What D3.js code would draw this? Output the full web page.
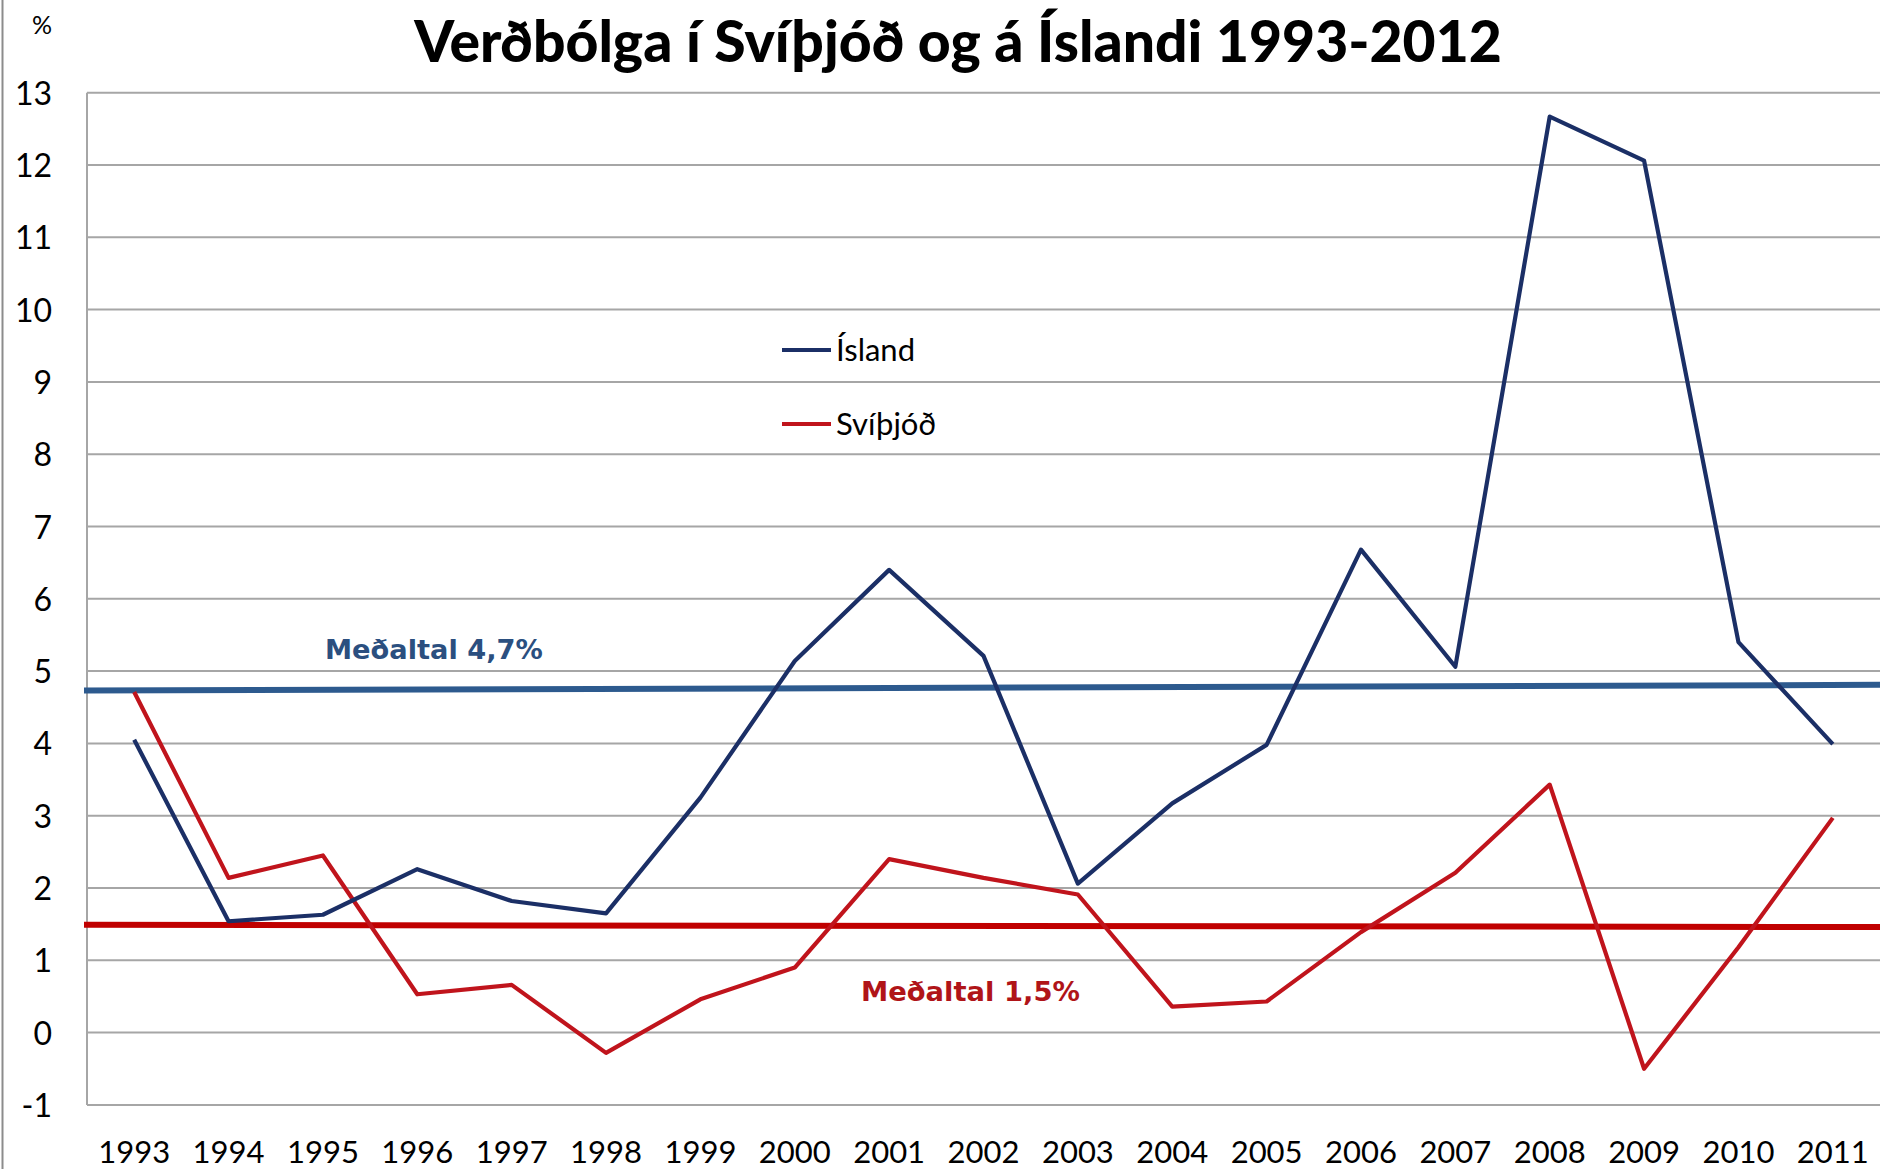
<!DOCTYPE html>
<html><head><meta charset="utf-8">
<script src="https://cdn.jsdelivr.net/npm/d3@7"></script>
<style>body{margin:0;background:#fff}svg{display:block}</style>
</head><body>
<svg id="c" width="1880" height="1169"></svg>
<script>
const years = [1993,1994,1995,1996,1997,1998,1999,2000,2001,2002,2003,2004,2005,2006,2007,2008,2009,2010,2011];
const island = [4.05,1.54,1.63,2.26,1.82,1.65,3.25,5.14,6.40,5.21,2.06,3.17,3.98,6.68,5.06,12.67,12.06,5.40,3.99];
const svithjod = [4.71,2.14,2.45,0.53,0.66,-0.28,0.46,0.90,2.40,2.14,1.91,0.36,0.43,1.39,2.21,3.43,-0.50,1.18,2.97];
const avgIsland = [4.73,4.81];
const avgSvithjod = [1.49,1.46];
const yTicks = [-1,0,1,2,3,4,5,6,7,8,9,10,11,12,13];
const seriesNames = ["Ísland","Svíþjóð"];
const avgLabels = ["Meðaltal 4,7%","Meðaltal 1,5%"];
const titleText = "Verðbólga í Svíþjóð og á Íslandi 1993-2012";

const svg = d3.select("#c");
const L = 87, R = 1880, T = 92.7, B = 1104.9;
const x = d3.scaleBand().domain(years).range([L, R]);
const y = d3.scaleLinear().domain([-1, 13]).range([B, T]);
const cx = d => x(d) + x.bandwidth()/2;

function fit(sel, w){ const n = sel.node(); const fs = parseFloat(sel.attr("font-size")); const cw = n.getComputedTextLength(); sel.attr("font-size", fs*w/cw); }

// left border
svg.append("line").attr("x1",2.5).attr("x2",2.5).attr("y1",0).attr("y2",1169).attr("stroke","#8c8c8c").attr("stroke-width",2);

// grid
const grid = svg.append("g");
grid.selectAll("line").data(yTicks).join("line")
  .attr("x1", L).attr("x2", R).attr("y1", d=>y(d)).attr("y2", d=>y(d))
  .attr("stroke","#a6a6a6").attr("stroke-width",2);
svg.append("line").attr("x1",L).attr("x2",L).attr("y1",T).attr("y2",B).attr("stroke","#a6a6a6").attr("stroke-width",2);

// y axis labels
const yAxis = d3.axisLeft(y).tickValues(yTicks).tickSize(0).tickPadding(0).tickFormat(d => String(d));
const ya = svg.append("g").attr("transform","translate(52,0)").call(yAxis);
ya.select(".domain").remove();
ya.selectAll("text").attr("font-family","Lato, sans-serif").attr("font-size",32).attr("fill","#000").attr("dy","0.36em");

// x axis labels
const xAxis = d3.axisBottom(x).tickSize(0).tickPadding(0).tickFormat(d => String(d));
const xa = svg.append("g").attr("transform","translate(0,1140)").call(xAxis);
xa.select(".domain").remove();
xa.selectAll("text").attr("font-family","Lato, sans-serif").attr("font-size",31).attr("fill","#000").attr("dy","0.74em");

// % label
svg.append("text").attr("x",42).attr("y",34).attr("text-anchor","middle").attr("font-family","Lato, sans-serif").attr("font-size",25).text("%");

// title
const t = svg.append("text").attr("x",958).attr("y",62).attr("text-anchor","middle")
  .attr("font-family","Lato, sans-serif").attr("font-weight","900").attr("font-size",54).attr("fill","#000").text(titleText);
fit(t, 1088);

// avg lines
const avgX = [L-3, R];
svg.append("line").attr("x1",avgX[0]).attr("x2",avgX[1]).attr("y1",y(avgIsland[0])).attr("y2",y(avgIsland[1]))
  .attr("stroke","#2d5a8e").attr("stroke-width",6);
svg.append("line").attr("x1",avgX[0]).attr("x2",avgX[1]).attr("y1",y(avgSvithjod[0])).attr("y2",y(avgSvithjod[1]))
  .attr("stroke","#c00000").attr("stroke-width",6);

// series
const line = d3.line().x((d,i)=>cx(years[i])).y(d=>y(d));
svg.append("path").datum(svithjod).attr("d",line).attr("fill","none").attr("stroke","#c0141c").attr("stroke-width",4.2).attr("stroke-linejoin","round");
svg.append("path").datum(island).attr("d",line).attr("fill","none").attr("stroke","#1b2f66").attr("stroke-width",4.2).attr("stroke-linejoin","round");

// avg labels
const a1 = svg.append("text").attr("x",325).attr("y",659).attr("font-family","'DejaVu Sans', sans-serif").attr("font-weight","bold").attr("font-size",28).attr("fill","#2b4f7f").text(avgLabels[0]);
fit(a1, 218);
const a2 = svg.append("text").attr("x",861).attr("y",1001).attr("font-family","'DejaVu Sans', sans-serif").attr("font-weight","bold").attr("font-size",28).attr("fill","#b01418").text(avgLabels[1]);
fit(a2, 219);

// legend
const legColors = ["#1b2f66","#c0141c"];
const legY = [350, 424];
seriesNames.forEach((n,i)=>{
  svg.append("line").attr("x1",782).attr("x2",831).attr("y1",legY[i]).attr("y2",legY[i]).attr("stroke",legColors[i]).attr("stroke-width",4);
  const tx = svg.append("text").attr("x",836).attr("y",legY[i]).attr("dy","0.36em").attr("font-family","Lato, sans-serif").attr("font-size",31).attr("fill","#000").text(n);
});
</script>
</body></html>
